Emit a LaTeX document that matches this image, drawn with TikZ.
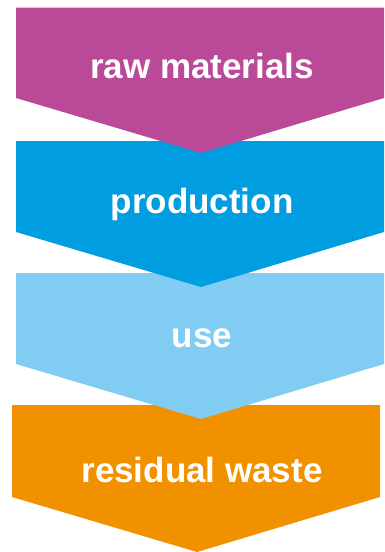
\documentclass[tikz,border=0pt]{standalone}
\usepackage{fontspec}
\setmainfont{Liberation Sans}
\definecolor{rawcol}{RGB}{186,74,151}
\definecolor{prodcol}{RGB}{0,158,224}
\definecolor{usecol}{RGB}{128,204,242}
\definecolor{wastecol}{RGB}{242,145,0}
\tikzset{
  chevtext/.style={text=white,anchor=base,inner sep=0pt,
    font=\bfseries\fontsize{35}{42}\selectfont}
}
\begin{document}
\begin{tikzpicture}[x=1pt,y=-1pt]
  \fill[white] (0,0) rectangle (384,552);
  %chevrons, lowest first so each tip lies over the next one
  \fill[wastecol] (12,405) -- (380,405) -- (380,497) -- (197,552) -- (12,497) -- cycle;
  \fill[usecol] (16,273) -- (384,273) -- (384,364) -- (201,419) -- (16,364) -- cycle;
  \fill[prodcol] (16,141) -- (384,141) -- (384,232) -- (201,287) -- (16,232) -- cycle;
  \fill[rawcol] (16,7.5) -- (384,7.5) -- (384,98) -- (201,153) -- (16,98) -- cycle;
  %labels
  \node[chevtext] (raw) at (202,78) {raw materials};
  \node[chevtext] (prod) at (202,213) {production};
  \node[chevtext] (use) at (202,347) {use};
  \node[chevtext] (waste) at (202,482) {residual waste};
\end{tikzpicture}
\end{document}
